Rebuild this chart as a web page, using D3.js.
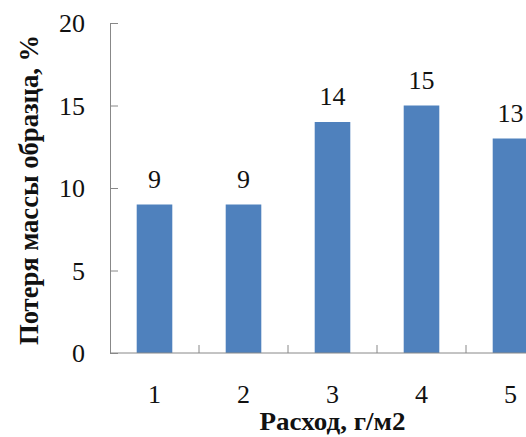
<!DOCTYPE html>
<html>
<head>
<meta charset="utf-8">
<script src="https://d3js.org/d3.v7.min.js"></script>
<style>
  body { margin: 0; background: #fff; }
</style>
</head>
<body>
<svg id="chart"></svg>
<script>
var categories = ['1', '2', '3', '4', '5'];
var values = [9, 9, 14, 15, 13];
var yTicks = [0, 5, 10, 15, 20];

var W = 526, H = 437;
var mLeft = 110, mTop = 23, plotW = 445, plotH = 330;
var FONT = '"Liberation Serif", "DejaVu Serif", "Times New Roman", serif';

var svg = d3.select('#chart')
    .attr('width', W)
    .attr('height', H)
    .style('font-family', FONT);

var x = d3.scaleBand()
    .domain(categories)
    .range([mLeft, mLeft + plotW])
    .paddingInner(0.6)
    .paddingOuter(0.3);

var xb = d3.scaleBand()
    .domain(categories)
    .range([mLeft, mLeft + plotW]);

var y = d3.scaleLinear()
    .domain([0, 20])
    .range([mTop + plotH, mTop]);

// bars
svg.append('g')
    .selectAll('rect')
    .data(values)
    .enter()
    .append('rect')
    .attr('x', function(d, i) { return x(categories[i]); })
    .attr('y', function(d) { return y(d); })
    .attr('width', x.bandwidth())
    .attr('height', function(d) { return y(0) - y(d); })
    .attr('fill', '#4F81BD');

// value labels
svg.append('g')
    .selectAll('text')
    .data(values)
    .enter()
    .append('text')
    .attr('x', function(d, i) { return x(categories[i]) + x.bandwidth() / 2; })
    .attr('y', function(d) { return y(d) - 17; })
    .attr('text-anchor', 'middle')
    .style('font-family', FONT)
    .style('font-size', '26px')
    .attr('fill', '#111')
    .text(function(d) { return d; });

// y axis
var yAxis = svg.append('g')
    .attr('transform', 'translate(' + mLeft + ',0)')
    .call(d3.axisRight(y).tickValues(yTicks).tickSize(8).tickSizeOuter(0));
yAxis.select('.domain').attr('stroke', '#888');
yAxis.selectAll('.tick line').attr('stroke', '#888');
yAxis.selectAll('.tick text')
    .attr('x', -25)
    .attr('text-anchor', 'end')
    .attr('dy', '0.33em')
    .style('font-family', FONT)
    .style('font-size', '26px')
    .attr('fill', '#111');

// x axis: ticks between categories
var bounds = categories.slice(1).map(function(c) { return xb(c); });
var xAxis = svg.append('g')
    .attr('transform', 'translate(0,' + (mTop + plotH) + ')');
xAxis.append('line')
    .attr('x1', mLeft).attr('x2', mLeft + plotW)
    .attr('stroke', '#888');
xAxis.selectAll('.bt')
    .data(bounds)
    .enter()
    .append('line')
    .attr('x1', function(d) { return d; })
    .attr('x2', function(d) { return d; })
    .attr('y1', 0).attr('y2', -8)
    .attr('stroke', '#888');
xAxis.selectAll('.cl')
    .data(categories)
    .enter()
    .append('text')
    .attr('x', function(d) { return xb(d) + xb.bandwidth() / 2; })
    .attr('y', 50)
    .attr('text-anchor', 'middle')
    .style('font-family', FONT)
    .style('font-size', '26px')
    .attr('fill', '#111')
    .text(function(d) { return d; });

// axis titles
svg.append('text')
    .attr('x', mLeft + plotW / 2)
    .attr('y', 430)
    .attr('text-anchor', 'middle')
    .attr('textLength', 146)
    .attr('lengthAdjust', 'spacingAndGlyphs')
    .style('font-family', FONT)
    .style('font-size', '25px')
    .style('font-weight', 'bold')
    .attr('fill', '#111')
    .text('Расход, г/м2');

svg.append('text')
    .attr('transform', 'translate(38,190) rotate(-90)')
    .attr('text-anchor', 'middle')
    .attr('textLength', 310)
    .attr('lengthAdjust', 'spacingAndGlyphs')
    .style('font-family', FONT)
    .style('font-size', '28px')
    .style('font-weight', 'bold')
    .attr('fill', '#111')
    .text('Потеря массы образца, %');
</script>
</body>
</html>
